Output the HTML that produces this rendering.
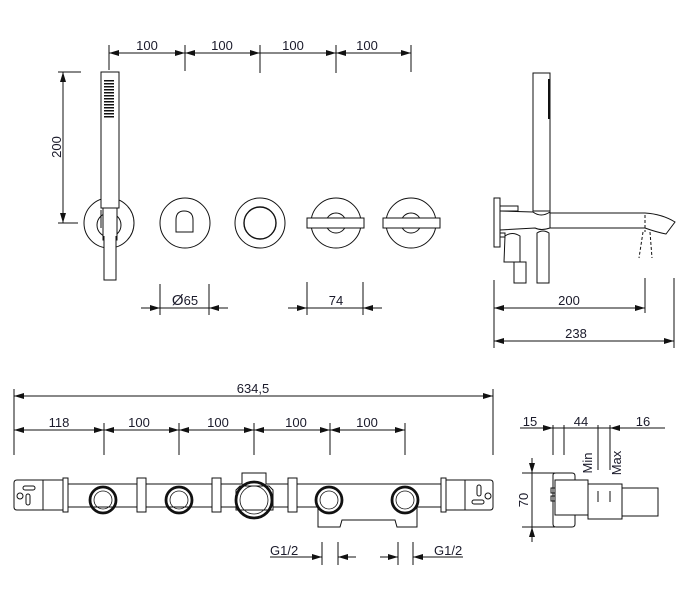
<!DOCTYPE html>
<html><head><meta charset="utf-8"><style>
html,body{margin:0;padding:0;background:#fff;}
svg{display:block;}
text{font-family:"Liberation Sans",sans-serif;font-size:13px;fill:#1a1a2a;}
</style></head><body>
<svg width="698" height="590" viewBox="0 0 698 590" xmlns="http://www.w3.org/2000/svg">
<defs>
<marker id="a" viewBox="0 0 10 6" refX="10" refY="3" markerWidth="11" markerHeight="6" orient="auto-start-reverse" markerUnits="userSpaceOnUse"><path d="M0,0L10,3L0,6z" fill="#111"/></marker>
</defs>
<g stroke="#111" stroke-width="1" fill="none">
<line x1="109" y1="45" x2="109" y2="70"/><line x1="185" y1="45" x2="185" y2="71"/><line x1="260" y1="45" x2="260" y2="73"/><line x1="336" y1="45" x2="336" y2="73"/><line x1="411" y1="45" x2="411" y2="72"/>
<line x1="109" y1="53" x2="185" y2="53" marker-start="url(#a)" marker-end="url(#a)"/>
<line x1="185" y1="53" x2="260" y2="53" marker-start="url(#a)" marker-end="url(#a)"/>
<line x1="260" y1="53" x2="336" y2="53" marker-end="url(#a)"/>
<line x1="336" y1="53" x2="411" y2="53" marker-start="url(#a)" marker-end="url(#a)"/>
<line x1="58" y1="72" x2="81" y2="72"/><line x1="58" y1="223" x2="78" y2="223"/>
<line x1="63" y1="72" x2="63" y2="223" marker-start="url(#a)" marker-end="url(#a)"/>
<circle cx="109" cy="223" r="25"/>
<circle cx="109" cy="225" r="12"/>
<rect x="101" y="72" width="18" height="136" fill="#fff"/>
<rect x="103" y="208" width="14" height="32" fill="#fff"/>
<path d="M104,236 L104,280 L116,280 L116,236" fill="#fff"/>
<line x1="101" y1="210" x2="101" y2="228"/>
<circle cx="185" cy="223" r="25"/>
<path d="M176,232 L176,220 Q176,211 184,211 Q193,211 193,220 L193,232 Z"/>
<circle cx="260" cy="223" r="25"/><circle cx="260" cy="223" r="16" stroke-width="1.4"/>
<circle cx="336" cy="223" r="25"/><circle cx="336" cy="223" r="10"/>
<rect x="307" y="218" width="57" height="10" fill="#fff"/>
<circle cx="411" cy="223" r="25"/><circle cx="411" cy="223" r="10"/>
<rect x="383" y="218" width="57" height="10" fill="#fff"/>
<line x1="160" y1="284" x2="160" y2="315"/><line x1="209" y1="284" x2="209" y2="315"/>
<line x1="141" y1="308" x2="160" y2="308" marker-end="url(#a)"/><line x1="228" y1="308" x2="209" y2="308" marker-end="url(#a)"/>
<line x1="160" y1="308" x2="209" y2="308"/>
<line x1="307" y1="282" x2="307" y2="315"/><line x1="363" y1="282" x2="363" y2="315"/>
<line x1="288" y1="308" x2="307" y2="308" marker-end="url(#a)"/><line x1="382" y1="308" x2="363" y2="308" marker-end="url(#a)"/>
<line x1="307" y1="308" x2="363" y2="308"/>
<rect x="533" y="73" width="17" height="138" fill="#fff"/>
<rect x="494" y="198" width="6" height="49"/>
<rect x="500" y="206" width="18" height="5"/>
<rect x="500" y="233" width="5" height="4"/>
<path d="M500,211 L533,212 Q541,218 550,212 L550,228 Q541,231 535,228 L500,230"/>
<path d="M550,213 L645,213 Q662,214 675,222 L666,234 Q656,232 645,228 L550,228"/>
<path d="M505,236 Q512,231 520,236 L520,262 L504,262 Z"/>
<rect x="514" y="262" width="12" height="21"/>
<path d="M537,283 L537,233 Q543,229 549,233 L549,283 Z"/>
<g stroke-dasharray="3,2"><line x1="645" y1="215" x2="645" y2="232"/><line x1="643" y1="232" x2="639" y2="258"/><line x1="650" y1="232" x2="652" y2="258"/></g>
<line x1="494" y1="280" x2="494" y2="348"/><line x1="645" y1="278" x2="645" y2="313"/><line x1="674" y1="278" x2="674" y2="348"/>
<line x1="494" y1="308" x2="645" y2="308" marker-start="url(#a)" marker-end="url(#a)"/>
<line x1="494" y1="341" x2="674" y2="341" marker-start="url(#a)" marker-end="url(#a)"/>
<line x1="14" y1="389" x2="14" y2="455"/><line x1="493" y1="389" x2="493" y2="455"/>
<line x1="14" y1="396" x2="493" y2="396" marker-start="url(#a)" marker-end="url(#a)"/>
<line x1="104" y1="423" x2="104" y2="455"/><line x1="179" y1="423" x2="179" y2="455"/><line x1="254" y1="423" x2="254" y2="455"/><line x1="330" y1="423" x2="330" y2="455"/><line x1="405" y1="423" x2="405" y2="455"/>
<line x1="14" y1="430" x2="104" y2="430" marker-start="url(#a)" marker-end="url(#a)"/>
<line x1="104" y1="430" x2="179" y2="430" marker-start="url(#a)" marker-end="url(#a)"/>
<line x1="179" y1="430" x2="254" y2="430" marker-start="url(#a)" marker-end="url(#a)"/>
<line x1="254" y1="430" x2="330" y2="430" marker-start="url(#a)" marker-end="url(#a)"/>
<line x1="330" y1="430" x2="405" y2="430" marker-start="url(#a)" marker-end="url(#a)"/>
<path d="M17,480 L66,480 L66,510 L17,510 Q14,510 14,507 L14,483 Q14,480 17,480 Z"/>
<line x1="43" y1="480" x2="43" y2="510"/>
<rect x="23" y="486" width="12" height="4" rx="2"/><circle cx="20" cy="496" r="3"/><rect x="26" y="494" width="4" height="11" rx="2"/>
<path d="M476,480 L490,480 Q493,480 493,483 L493,507 Q493,510 490,510 L442,510 L442,480 Z"/>
<line x1="465" y1="480" x2="465" y2="510"/>
<rect x="472" y="500" width="12" height="4" rx="2"/><circle cx="488" cy="496" r="3"/><rect x="477" y="485" width="4" height="11" rx="2"/>
<path d="M66,484 L242,484 L242,473 L266,473 L266,484 L442,484 M66,507 L318,507 L318,527 L340,527 L342,520 L395,520 L397,527 L417,527 L417,507 L442,507"/>
<line x1="66" y1="480" x2="66" y2="510"/>
<g fill="#fff"><rect x="137" y="478" width="9" height="34"/><rect x="212" y="478" width="9" height="34"/><rect x="288" y="478" width="9" height="34"/><rect x="441" y="478" width="5" height="34"/><rect x="63" y="478" width="5" height="34"/></g>
<path d="M236,490 L240,486 L269,486 L273,490 L273,510 L236,510 Z" fill="#fff"/>
<g stroke-width="2.8"><circle cx="103" cy="500" r="13"/><circle cx="179" cy="500" r="13"/><circle cx="329" cy="500" r="13"/><circle cx="405" cy="500" r="13"/><circle cx="254" cy="500" r="18"/></g>
<g stroke-width="0.8"><circle cx="103" cy="500" r="9"/><circle cx="179" cy="500" r="9"/><circle cx="329" cy="500" r="9"/><circle cx="405" cy="500" r="9"/><circle cx="254" cy="500" r="14"/></g>
<line x1="322" y1="542" x2="322" y2="565"/><line x1="338" y1="542" x2="338" y2="565"/>
<line x1="270" y1="557" x2="322" y2="557" marker-end="url(#a)"/><line x1="356" y1="557" x2="338" y2="557" marker-end="url(#a)"/>
<line x1="398" y1="542" x2="398" y2="565"/><line x1="413" y1="542" x2="413" y2="565"/>
<line x1="380" y1="557" x2="398" y2="557" marker-end="url(#a)"/><line x1="463" y1="557" x2="413" y2="557" marker-end="url(#a)"/>
<line x1="520" y1="428" x2="553" y2="428" marker-end="url(#a)"/>
<line x1="553" y1="428" x2="610" y2="428"/>
<line x1="628" y1="428" x2="610" y2="428" marker-end="url(#a)"/>
<line x1="628" y1="428" x2="665" y2="428"/>
<line x1="553" y1="425" x2="553" y2="455"/><line x1="564" y1="425" x2="564" y2="455"/><line x1="598" y1="425" x2="598" y2="470"/><line x1="610" y1="425" x2="610" y2="470"/>
<line x1="522" y1="473" x2="555" y2="473"/><line x1="522" y1="527" x2="555" y2="527"/>
<line x1="532" y1="458" x2="532" y2="473" marker-end="url(#a)"/>
<line x1="532" y1="473" x2="532" y2="527"/>
<line x1="532" y1="542" x2="532" y2="527" marker-end="url(#a)"/>
<path d="M553,475 Q553,473 556,473 L572,473 Q575,473 575,476 L575,524 Q575,527 572,527 L556,527 Q553,527 553,524 Z"/>
<rect x="551" y="488" width="4" height="5"/><rect x="551" y="496" width="4" height="5"/>
<rect x="588" y="484" width="34" height="35"/>
<rect x="622" y="488" width="36" height="28"/>
<rect x="555" y="480" width="33" height="35" fill="#fff"/>
<line x1="598" y1="491" x2="598" y2="502"/><line x1="610" y1="491" x2="610" y2="502"/>
</g>
<g>
<text x="147" y="50" text-anchor="middle">100</text><text x="222" y="50" text-anchor="middle">100</text><text x="293" y="50" text-anchor="middle">100</text><text x="367" y="50" text-anchor="middle">100</text>
<text transform="translate(61,147) rotate(-90)" text-anchor="middle">200</text>
<text x="185" y="305" text-anchor="middle"><tspan font-size="15">Ø</tspan>65</text>
<text x="336" y="305" text-anchor="middle">74</text>
<text x="569" y="305" text-anchor="middle">200</text>
<text x="576" y="338" text-anchor="middle">238</text>
<text x="253" y="393" text-anchor="middle">634,5</text>
<text x="59" y="427" text-anchor="middle">118</text><text x="139" y="427" text-anchor="middle">100</text><text x="218" y="427" text-anchor="middle">100</text><text x="296" y="427" text-anchor="middle">100</text><text x="367" y="427" text-anchor="middle">100</text>
<text x="270" y="555">G1/2</text><text x="434" y="555">G1/2</text>
<text x="530" y="426" text-anchor="middle">15</text><text x="581" y="426" text-anchor="middle">44</text><text x="643" y="426" text-anchor="middle">16</text>
<text transform="translate(592,463) rotate(-90)" text-anchor="middle">Min</text>
<text transform="translate(621,463) rotate(-90)" text-anchor="middle">Max</text>
<text transform="translate(528,500) rotate(-90)" text-anchor="middle">70</text>
</g>
<g fill="#111">
<rect x="104" y="80" width="10" height="1.5"/><rect x="104" y="83" width="10" height="1.5"/><rect x="104" y="86" width="10" height="1.5"/><rect x="104" y="89" width="10" height="1.5"/><rect x="104" y="92" width="10" height="1.5"/><rect x="104" y="95" width="10" height="1.5"/><rect x="104" y="98" width="10" height="1.5"/><rect x="104" y="101" width="10" height="1.5"/><rect x="104" y="104" width="10" height="1.5"/><rect x="104" y="107" width="10" height="1.5"/><rect x="104" y="110" width="10" height="1.5"/><rect x="104" y="113" width="10" height="1.5"/><rect x="104" y="116" width="10" height="1.5"/>
<rect x="548" y="79" width="1.5" height="40"/>
</g>
</svg>
</body></html>
